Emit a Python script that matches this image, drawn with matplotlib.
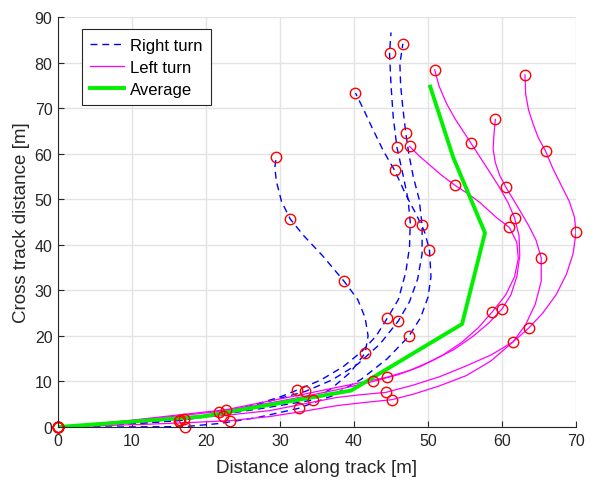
import matplotlib
matplotlib.use('Agg')
import matplotlib.pyplot as plt

plt.rcParams['font.family'] = ['Liberation Sans', 'DejaVu Sans']

# Right turn tracks (blue dashed)
r1_x = [0, 8, 16.3, 22, 28, 34.4, 37, 39.5, 41.5, 41.9, 41.5, 40.5, 38.6, 35.8, 33.2, 31.4, 30.2, 29.5, 29.3, 29.5]
r1_y = [0, 0.5, 1.4, 2.7, 4.2, 5.9, 8.5, 12, 16.2, 20, 24, 28, 32.1, 37.5, 42, 45.6, 49.5, 54, 57, 59.3]
r2_x = [0, 6, 12, 16.5, 21, 26, 30, 32.3, 35.5, 38.5, 41, 43, 44.5, 46.0, 47.0, 47.5, 47.6, 47.3, 46.6, 45.8, 45.3, 45.0, 44.8, 45.0]
r2_y = [0, 0.3, 0.9, 1.6, 2.8, 4.6, 6.6, 8.1, 10.3, 13.2, 16.5, 20, 23.9, 28, 34, 39.5, 44.9, 50, 55.5, 61.4, 68, 75, 82.0, 86.6]
r3_x = [0, 6, 12, 17.0, 22, 27, 33.4, 37, 40.5, 43.5, 46.0, 47.5, 48.6, 49.2, 49.2, 48.8, 48.0, 47.4, 47.0, 46.6, 46.3, 46.2, 46.6]
r3_y = [0, 0.4, 1.0, 1.7, 3.0, 5.0, 7.8, 10.3, 13.8, 18.2, 23.3, 27.5, 32.5, 38, 44.3, 50, 55, 60, 64.5, 70, 75, 79.7, 84.1]
r4_x = [0, 8, 17.2, 22, 27, 32.5, 37, 41, 44.5, 47.4, 49.0, 50.0, 50.4, 50.2, 49.5, 48.3, 47, 45.5, 44, 42.5, 41.2, 40.2]
r4_y = [0, 0, 0.1, 0.8, 2.1, 4.1, 6.8, 10.5, 15, 19.9, 24, 28.5, 33, 38.9, 43, 47, 51, 56.3, 60.5, 65.5, 70, 73.3]

# Left turn tracks (magenta)
l1_x = [0, 6, 12, 18, 23.3, 28.6, 33, 37.7, 41.5, 45.1, 48, 51.5, 55.2, 58.5, 61.5, 63.6, 65.5, 67.3, 68.7, 69.6, 70.0,
        69.8, 69.1, 67.8, 66.8, 65.9, 64.9, 64.2, 63.6, 63.2, 63.1]
l1_y = [0, 0.3, 0.6, 1.0, 1.4, 2.3, 3.4, 4.7, 5.4, 6.0, 7.2, 9.0, 11.3, 14.5, 18.7, 21.7, 25, 29, 33.5, 38, 42.7,
        46, 49.5, 53.7, 57, 60.5, 63.5, 66.5, 69.5, 73, 77.3]
l2_x = [0, 6, 12, 17, 22.3, 28.6, 33, 37.7, 41, 44.3, 48, 51.5, 55, 58.5, 61.5, 63.2, 64.5, 65.3, 65.3, 64.6, 63.6,
        62.6, 61.5, 60.5, 59.7, 59.1, 58.8, 58.9, 59.1]
l2_y = [0, 0.5, 1.2, 1.8, 2.5, 3.6, 5.0, 6.5, 7.1, 7.6, 9.2, 11.0, 13.3, 15.8, 18.7, 22.5, 27, 32, 37.1, 41, 44.2,
        47, 50.0, 52.7, 55.2, 58, 61.0, 64, 67.5]
l3_x = [0, 5, 10, 16, 22.7, 27, 32, 38, 44.4, 47.5, 50.5, 53.5, 56, 58.2, 60.0, 61.2, 62.0, 62.4, 62.3, 61.7, 60.8,
        59.5, 58.0, 56.8, 55.8, 54.8, 53.7, 52.5, 51.5, 50.9]
l3_y = [0, 0.7, 1.5, 2.6, 3.8, 5.2, 6.8, 8.8, 10.9, 12.4, 14.5, 17, 19.8, 22.8, 25.9, 29, 33, 37.6, 42, 45.9, 49.3,
        53, 56.8, 59.8, 62.3, 64.8, 67.5, 71, 74.8, 78.4]
l4_x = [0, 5, 10, 16, 21.7, 27, 32, 37.5, 42.6, 46, 49, 52, 54.5, 56.8, 58.7, 60.5, 61.7, 62.2, 62.0, 61.0, 59.3,
        57.0, 55.3, 53.6, 51.8, 50.3, 48.8, 47.5]
l4_y = [0, 0.6, 1.4, 2.4, 3.4, 4.8, 6.3, 8.1, 10.0, 11.5, 13.3, 15.8, 18.5, 21.8, 25.3, 29, 33, 37, 40.5, 43.8, 45.9,
        49.3, 51.3, 53.1, 55.3, 57.4, 59.5, 61.6]

# Marked positions (red circles) on each track
r1_mx = [0, 16.3, 34.4, 41.5, 38.6, 31.4, 29.5]
r1_my = [0, 1.4, 5.9, 16.2, 32.1, 45.6, 59.3]
r2_mx = [0, 16.5, 32.3, 44.5, 47.6, 45.8, 44.8]
r2_my = [0, 1.6, 8.1, 23.9, 44.9, 61.4, 82.0]
r3_mx = [0, 17.0, 33.4, 46.0, 49.2, 47.0, 46.6]
r3_my = [0, 1.7, 7.8, 23.3, 44.3, 64.5, 84.1]
r4_mx = [0, 17.2, 32.5, 47.4, 50.2, 45.5, 40.2]
r4_my = [0, 0.1, 4.1, 19.9, 38.9, 56.3, 73.3]
l1_mx = [0, 23.3, 45.1, 63.6, 70.0, 65.9, 63.1]
l1_my = [0, 1.4, 6.0, 21.7, 42.7, 60.5, 77.3]
l2_mx = [0, 22.3, 44.3, 61.5, 65.3, 60.5, 59.1]
l2_my = [0, 2.5, 7.6, 18.7, 37.1, 52.7, 67.5]
l3_mx = [0, 22.7, 44.4, 60.0, 61.7, 55.8, 50.9]
l3_my = [0, 3.8, 10.9, 25.9, 45.9, 62.3, 78.4]
l4_mx = [0, 21.7, 42.6, 58.7, 61.0, 53.6, 47.5]
l4_my = [0, 3.4, 10.0, 25.3, 43.8, 53.1, 61.6]

# Average track (green)
avg_x = [0, 19.5, 39.6, 54.6, 57.7, 53.4, 50.3]
avg_y = [0, 2.3, 8.0, 22.6, 42.6, 59.2, 74.7]

right_tracks = [(r1_x, r1_y), (r2_x, r2_y), (r3_x, r3_y), (r4_x, r4_y)]
left_tracks = [(l1_x, l1_y), (l2_x, l2_y), (l3_x, l3_y), (l4_x, l4_y)]
marks = [(r1_mx, r1_my), (r2_mx, r2_my), (r3_mx, r3_my), (r4_mx, r4_my),
         (l1_mx, l1_my), (l2_mx, l2_my), (l3_mx, l3_my), (l4_mx, l4_my)]

fig = plt.figure(figsize=(5.92, 4.85), dpi=100)
ax = fig.add_axes([0.098, 0.1175, 0.875, 0.8455])

for i, (x, y) in enumerate(right_tracks):
    ax.plot(x, y, color='blue', lw=1, dashes=(5, 3.5),
            label='Right turn' if i == 0 else None)
for i, (x, y) in enumerate(left_tracks):
    ax.plot(x, y, color='magenta', lw=0.9,
            label='Left turn' if i == 0 else None)
ax.plot(avg_x, avg_y, color='#00f000', lw=2.8, label='Average')
for mx, my in marks:
    ax.plot(mx, my, 'o', mfc='none', mec='red', ms=7.5, mew=1, clip_on=False)

ax.set_xlim(0, 70)
ax.set_ylim(0, 90)
ax.set_xticks(range(0, 71, 10))
ax.set_yticks(range(0, 91, 10))
ax.grid(True, color='#e3e3e3', lw=1)
ax.set_axisbelow(True)
ax.tick_params(direction='in', labelsize=11.5, colors='#262626', length=4, pad=4)
for s in ['top', 'right']:
    ax.spines[s].set_visible(False)
for s in ['left', 'bottom']:
    ax.spines[s].set_color('#262626')
ax.set_xlabel('Distance along track [m]', fontsize=13.5, color='#262626', labelpad=8)
ax.set_ylabel('Cross track distance [m]', fontsize=13.5, color='#262626', labelpad=3)

leg = ax.legend(loc='upper left', bbox_to_anchor=(0.046, 0.97), borderaxespad=0, fontsize=12,
                fancybox=False, framealpha=1, edgecolor='#262626',
                handlelength=2.0, borderpad=0.5, labelspacing=0.42, handletextpad=0.4)
leg.get_frame().set_linewidth(0.8)

fig.savefig('out.png', dpi=100)
